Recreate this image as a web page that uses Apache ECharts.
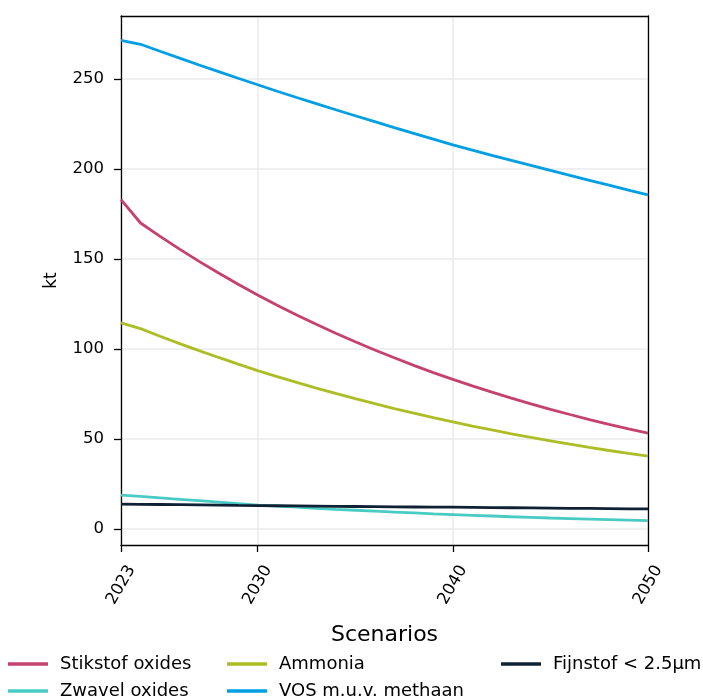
<!DOCTYPE html>
<html><head><meta charset="utf-8">
<script src="https://cdn.jsdelivr.net/npm/echarts@6/dist/echarts.min.js"></script>
<style>html,body{margin:0;padding:0;background:#fff}#c{width:703px;height:700px}</style>
</head><body><div id="c"></div>
<script>
const years = [2023,2024,2025,2026,2027,2028,2029,2030,2031,2032,2033,2034,2035,2036,2037,2038,2039,2040,2041,2042,2043,2044,2045,2046,2047,2048,2049,2050];
const stikstof = [183.0,170.0,162.6,155.5,148.7,142.2,136.0,130.0,124.3,118.9,113.7,108.7,104.0,99.4,95.1,90.9,86.9,83.1,79.5,76.0,72.7,69.5,66.5,63.6,60.8,58.1,55.6,53.3];
const zwavel = [18.8,18.1,17.3,16.5,15.7,14.9,14.1,13.3,12.7,12.1,11.5,10.9,10.4,9.9,9.4,8.9,8.4,8.0,7.6,7.2,6.8,6.5,6.1,5.8,5.5,5.2,4.9,4.6];
const ammonia = [114.5,111.3,107.1,103.0,99.1,95.3,91.6,88.0,84.6,81.4,78.3,75.3,72.4,69.6,66.9,64.4,61.9,59.5,57.2,55.0,52.9,50.9,49.0,47.1,45.3,43.6,42.0,40.5];
const vos = [271.5,269.3,265.4,261.6,257.8,254.1,250.4,246.8,243.2,239.7,236.3,232.9,229.6,226.3,223.0,219.8,216.6,213.4,210.5,207.6,204.8,202.0,199.2,196.4,193.7,191.0,188.3,185.6];
const fijnstof = [13.8,13.7,13.6,13.5,13.4,13.3,13.1,13.0,12.9,12.8,12.7,12.6,12.5,12.4,12.3,12.2,12.1,12.1,12.0,11.9,11.8,11.7,11.6,11.5,11.4,11.3,11.2,11.2];
const seriesNames = ['Stikstof oxides','Zwavel oxides','Ammonia','VOS m.u.v. methaan','Fijnstof < 2.5µm'];
const seriesData = [stikstof, zwavel, ammonia, vos, fijnstof];
const colors = ['#c6416d','#48cbc3','#adbd25','#009fe3','#0e2234'];
const xTicks = [2023,2030,2040,2050];
const yTicks = [0,50,100,150,200,250];

const font = 'DejaVu Sans';
const chart = echarts.init(document.getElementById('c'), null, {renderer:'canvas'});
const legendPos = [[8,655],[8,682],[227,655],[227,682],[501,655]];
const frameAxis = {show:true,axisLine:{show:true,onZero:false,lineStyle:{color:'#000',width:1.3}},axisTick:{show:false},axisLabel:{show:false},splitLine:{show:false}};
chart.setOption({
  animation:false,
  color: colors,
  textStyle:{fontFamily:font},
  grid:{left:121,right:55,top:16,bottom:155,show:false},
  xAxis:[{
    type:'value',min:2023,max:2050,
    name:'Scenarios',nameLocation:'middle',nameGap:79,
    nameTextStyle:{fontSize:22,color:'#000',fontFamily:font},
    axisLine:{show:true,onZero:false,lineStyle:{color:'#000',width:1.3}},
    axisTick:{show:true,length:7,lineStyle:{color:'#000',width:1.3},customValues:xTicks},
    axisLabel:{rotate:60,fontSize:16.5,color:'#000',margin:40,align:'center',verticalAlign:'middle',fontFamily:font,customValues:xTicks,formatter:v=>String(v)},
    splitLine:{show:true,lineStyle:{color:'#ebebeb',width:1.5}}
  }, Object.assign({type:'value',min:2023,max:2050,position:'top'}, frameAxis)],
  yAxis:[{
    type:'value',min:-8.9,max:285,
    name:'kt',nameLocation:'middle',nameGap:61,nameRotate:90,
    nameTextStyle:{fontSize:17,color:'#000',fontFamily:font},
    axisLine:{show:true,onZero:false,lineStyle:{color:'#000',width:1.3}},
    axisTick:{show:true,length:7,lineStyle:{color:'#000',width:1.3},customValues:yTicks},
    axisLabel:{fontSize:16.5,color:'#000',margin:17,fontFamily:font,customValues:yTicks},
    splitLine:{show:true,lineStyle:{color:'#ebebeb',width:1.5}}
  }, Object.assign({type:'value',min:-8.9,max:285,position:'right'}, frameAxis)],
  legend: seriesNames.map((n,i)=>({
    data:[n],left:legendPos[i][0],top:legendPos[i][1],
    itemWidth:40,itemHeight:3.5,icon:'rect',padding:0,
    textStyle:{fontSize:18,color:'#000',fontFamily:font,padding:[0,0,0,7]}
  })),
  series: seriesNames.map((n,i)=>({
    name:n,type:'line',showSymbol:false,symbol:'none',
    xAxisIndex:0,yAxisIndex:0,
    data: years.map((y,j)=>[y,seriesData[i][j]]),
    lineStyle:{width:2.8,color:colors[i]},
    itemStyle:{color:colors[i]},
    z: 2
  }))
});
</script></body></html>
